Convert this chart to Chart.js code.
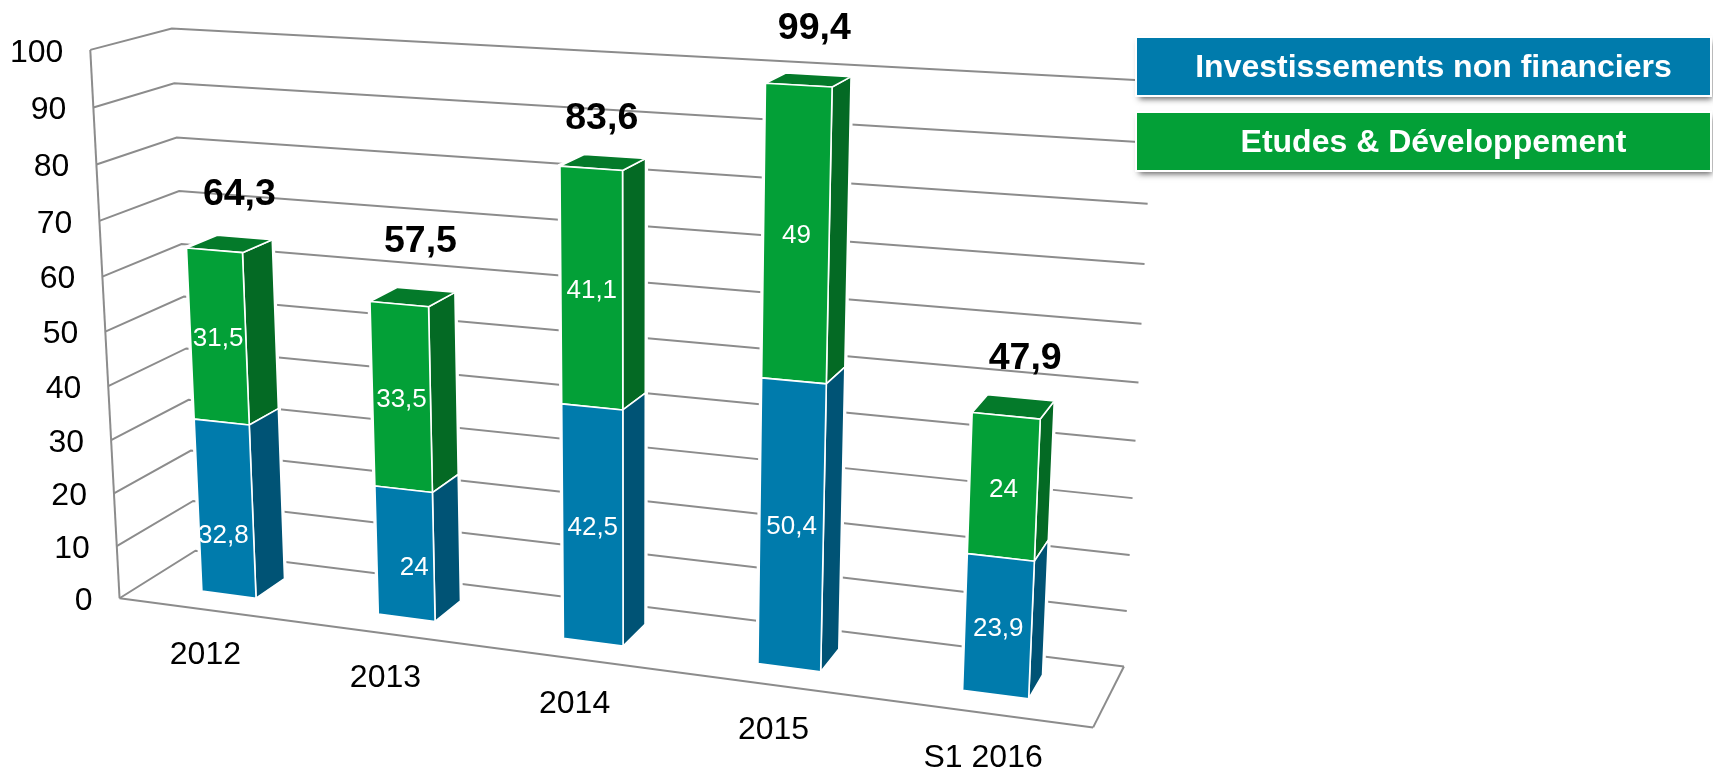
<!DOCTYPE html>
<html>
<head>
<meta charset="utf-8">
<title>Investissements</title>
<script src="https://cdn.jsdelivr.net/npm/chart.js@4/dist/chart.umd.js"></script>
<style>
    html, body { margin: 0; padding: 0; background: #ffffff; }
    canvas { display: block; }
</style>
</head>
<body>
<canvas id="myChart" width="1713" height="775"></canvas>
<script>
// Dados
const categorias = ['2012', '2013', '2014', '2015', 'S1 2016'];
const investissements = [32.8, 24, 42.5, 50.4, 23.9];
const etudes = [31.5, 33.5, 41.1, 49, 24];
const totaux = [64.3, 57.5, 83.6, 99.4, 47.9];
const nomsSeries = ['Investissements non financiers', 'Etudes & Développement'];

const fonte = '"Liberation Sans", Arial, sans-serif';
const coresFrente = ['#007bac', '#03a037'];
const coresLado = ['#005375', '#046a24'];
const corTopo = '#047a2a';
const corGrade = '#8c8c8c';

// bar depth inside the box (0 = front edge, 1 = back wall)
const prof0 = 0.3, prof1 = 0.7;

// labels that were moved by hand on the original slide: [dx, dy] per category
const ajusteAzul = [[-2, 24], [9, 11], [0, 0], [0, 0], [0, 0]];
const ajusteTotal = [[2, 2], [0, -3], [-9, 7], [-2, -1], [4, 7]];

// The 3D box corners as seen on the picture: [u, v, w, screenX, screenY]
const cantos = [
    [0, 0, 0, 119, 599], [0, 0, 1, 196, 550], [1, 0, 0, 1093, 727], [1, 0, 1, 1124, 667],
    [0, 1, 0, 91, 49.5], [0, 1, 1, 171, 29], [1, 1, 1, 1154, 81]
];

function resolver(A, b) {
    const n = b.length;
    for (let i = 0; i < n; i++) {
        let p = i;
        for (let l = i + 1; l < n; l++) if (Math.abs(A[l][i]) > Math.abs(A[p][i])) p = l;
        [A[i], A[p]] = [A[p], A[i]];
        [b[i], b[p]] = [b[p], b[i]];
        for (let l = i + 1; l < n; l++) {
            const f = A[l][i] / A[i][i];
            for (let c = i; c < n; c++) A[l][c] -= f * A[i][c];
            b[l] -= f * b[i];
        }
    }
    const x = new Array(n).fill(0);
    for (let i = n - 1; i >= 0; i--) {
        let s = b[i];
        for (let c = i + 1; c < n; c++) s -= A[i][c] * x[c];
        x[i] = s / A[i][i];
    }
    return x;
}

// least squares fit of a 3x4 camera matrix on the corners
function ajustarCamera() {
    const N = Array.from({ length: 11 }, () => new Array(11).fill(0));
    const r = new Array(11).fill(0);
    const somar = (linha, y) => {
        for (let i = 0; i < 11; i++) {
            r[i] += linha[i] * y;
            for (let j = 0; j < 11; j++) N[i][j] += linha[i] * linha[j];
        }
    };
    cantos.forEach(([u, v, w, x, y]) => {
        somar([u, v, w, 1, 0, 0, 0, 0, -x * u, -x * v, -x * w], x);
        somar([0, 0, 0, 0, u, v, w, 1, -y * u, -y * v, -y * w], y);
    });
    return resolver(N, r);
}
const cam = ajustarCamera();

function projetar(u, v, w) {
    const d = cam[8] * u + cam[9] * v + cam[10] * w + 1;
    return {
        x: (cam[0] * u + cam[1] * v + cam[2] * w + cam[3]) / d,
        y: (cam[4] * u + cam[5] * v + cam[6] * w + cam[7]) / d
    };
}

// chart pixels -> normalized box coordinates
function paraU(chart, px) {
    const a = chart.chartArea;
    return (px - a.left) / (a.right - a.left);
}
function paraV(chart, py) {
    const a = chart.chartArea;
    return (a.bottom - py) / (a.bottom - a.top);
}

function caminho(ctx, pontos) {
    ctx.beginPath();
    pontos.forEach((p, i) => i ? ctx.lineTo(p.x, p.y) : ctx.moveTo(p.x, p.y));
    ctx.closePath();
}

function facesDaBarra(chart, bar) {
    const u0 = paraU(chart, bar.x - bar.width / 2), u1 = paraU(chart, bar.x + bar.width / 2);
    const v0 = paraV(chart, bar.base), v1 = paraV(chart, bar.y);
    return {
        frente: [projetar(u0, v0, prof0), projetar(u1, v0, prof0), projetar(u1, v1, prof0), projetar(u0, v1, prof0)],
        lado: [projetar(u1, v0, prof0), projetar(u1, v0, prof1), projetar(u1, v1, prof1), projetar(u1, v1, prof0)],
        topo: [projetar(u0, v1, prof0), projetar(u1, v1, prof0), projetar(u1, v1, prof1), projetar(u0, v1, prof1)]
    };
}

class Barra3DController extends Chart.BarController {
    draw() {
        const ctx = this.chart.ctx;
        const serie = this.index;
        ctx.save();
        ctx.strokeStyle = '#ffffff';
        ctx.lineWidth = 1.6;
        ctx.lineJoin = 'round';
        this._cachedMeta.data.forEach(bar => {
            const f = facesDaBarra(this.chart, bar);
            caminho(ctx, f.lado);
            ctx.fillStyle = coresLado[serie];
            ctx.fill();
            ctx.stroke();
            if (serie === coresFrente.length - 1) {
                caminho(ctx, f.topo);
                ctx.fillStyle = corTopo;
                ctx.fill();
                ctx.stroke();
            }
            caminho(ctx, f.frente);
            ctx.fillStyle = coresFrente[serie];
            ctx.fill();
            ctx.stroke();
        });
        ctx.restore();
    }
}
Barra3DController.id = 'barra3d';
Barra3DController.defaults = Chart.BarController.defaults;
Barra3DController.overrides = Chart.BarController.overrides;
Chart.register(Barra3DController);

function linha(ctx, a, b) {
    ctx.beginPath();
    ctx.moveTo(a.x, a.y);
    ctx.lineTo(b.x, b.y);
    ctx.stroke();
}

function virgula(v) {
    return String(v).replace('.', ',');
}

// walls and floor of the box, then a white halo so lines stop before the bars
const pluginCaixa = {
    id: 'caixa',
    beforeDatasetsDraw(chart) {
        const ctx = chart.ctx;
        const y = chart.scales.y;
        ctx.save();
        ctx.strokeStyle = corGrade;
        ctx.lineWidth = 2;
        y.ticks.forEach(t => {
            const v = paraV(chart, y.getPixelForValue(t.value));
            ctx.beginPath();
            const a = projetar(0, v, 0), b = projetar(0, v, 1), c = projetar(1, v, 1);
            ctx.moveTo(a.x, a.y);
            ctx.lineTo(b.x, b.y);
            ctx.lineTo(c.x, c.y);
            ctx.stroke();
        });
        linha(ctx, projetar(0, 0, 0), projetar(0, 1, 0));
        linha(ctx, projetar(0, 0, 0), projetar(1, 0, 0));
        linha(ctx, projetar(1, 0, 0), projetar(1, 0, 1));

        ctx.strokeStyle = '#ffffff';
        ctx.lineWidth = 5;
        ctx.lineJoin = 'round';
        chart.data.datasets.forEach((ds, i) => {
            chart.getDatasetMeta(i).data.forEach(bar => {
                const f = facesDaBarra(chart, bar);
                caminho(ctx, f.frente); ctx.stroke();
                caminho(ctx, f.lado); ctx.stroke();
                caminho(ctx, f.topo); ctx.stroke();
            });
        });
        ctx.restore();
    },
    afterDatasetsDraw(chart) {
        const ctx = chart.ctx;
        const y = chart.scales.y;
        const x = chart.scales.x;
        ctx.save();
        ctx.textBaseline = 'middle';

        // value axis labels
        ctx.fillStyle = '#000000';
        ctx.font = '32px ' + fonte;
        ctx.textAlign = 'right';
        y.ticks.forEach(t => {
            const p = projetar(0, paraV(chart, y.getPixelForValue(t.value)), 0);
            ctx.fillText(String(t.value), p.x - 27, p.y + 3);
        });

        // category labels
        ctx.textAlign = 'center';
        categorias.forEach((c, i) => {
            const p = projetar(paraU(chart, x.getPixelForValue(i)), 0, 0);
            ctx.fillText(c, p.x - 1, p.y + 45);
        });

        // values inside the segments
        ctx.font = '26px ' + fonte;
        ctx.fillStyle = '#ffffff';
        chart.data.datasets.forEach((ds, s) => {
            chart.getDatasetMeta(s).data.forEach((bar, i) => {
                const f = facesDaBarra(chart, bar).frente;
                const cx = (f[0].x + f[1].x + f[2].x + f[3].x) / 4;
                const cy = (f[0].y + f[1].y + f[2].y + f[3].y) / 4;
                const aj = s === 0 ? ajusteAzul[i] : [0, 0];
                ctx.fillText(virgula(ds.data[i]), cx + aj[0], cy + 3 + aj[1]);
            });
        });

        // totals above the bars
        ctx.font = 'bold 37.5px ' + fonte;
        ctx.fillStyle = '#000000';
        const metaTopo = chart.getDatasetMeta(1).data;
        totaux.forEach((t, i) => {
            const f = facesDaBarra(chart, metaTopo[i]).topo;
            const cx = (f[0].x + f[2].x) / 2;
            const cy = Math.min(f[2].y, f[3].y);
            ctx.fillText(virgula(t), cx + 8 + ajusteTotal[i][0], cy - 43 + ajusteTotal[i][1]);
        });

        // legend boxes
        const caixaX = 1137, caixaL = 573, caixaA = 57;
        [38, 113].forEach((topo, i) => {
            ctx.save();
            ctx.shadowColor = 'rgba(60,60,60,0.8)';
            ctx.shadowBlur = 6;
            ctx.shadowOffsetX = 2;
            ctx.shadowOffsetY = 4;
            ctx.fillStyle = coresFrente[i];
            ctx.fillRect(caixaX, topo, caixaL, caixaA);
            ctx.restore();
            ctx.strokeStyle = '#ffffff';
            ctx.lineWidth = 2;
            ctx.strokeRect(caixaX - 1, topo - 1, caixaL + 2, caixaA + 2);
            ctx.fillStyle = '#ffffff';
            ctx.font = 'bold 32px ' + fonte;
            ctx.fillText(nomsSeries[i], caixaX + caixaL / 2 + 10, topo + caixaA / 2 + 2);
        });
        ctx.restore();
    }
};

new Chart(document.getElementById('myChart'), {
    type: 'barra3d',
    plugins: [pluginCaixa],
    data: {
        labels: categorias,
        datasets: [
            { label: nomsSeries[0], data: investissements, backgroundColor: coresFrente[0] },
            { label: nomsSeries[1], data: etudes, backgroundColor: coresFrente[1] }
        ]
    },
    options: {
        responsive: false,
        animation: false,
        categoryPercentage: 1,
        barPercentage: 0.312,
        plugins: { legend: { display: false }, tooltip: { enabled: false } },
        scales: {
            x: { stacked: true, display: false },
            y: { stacked: true, display: false, min: 0, max: 100, ticks: { stepSize: 10 } }
        }
    }
});
</script>
</body>
</html>
